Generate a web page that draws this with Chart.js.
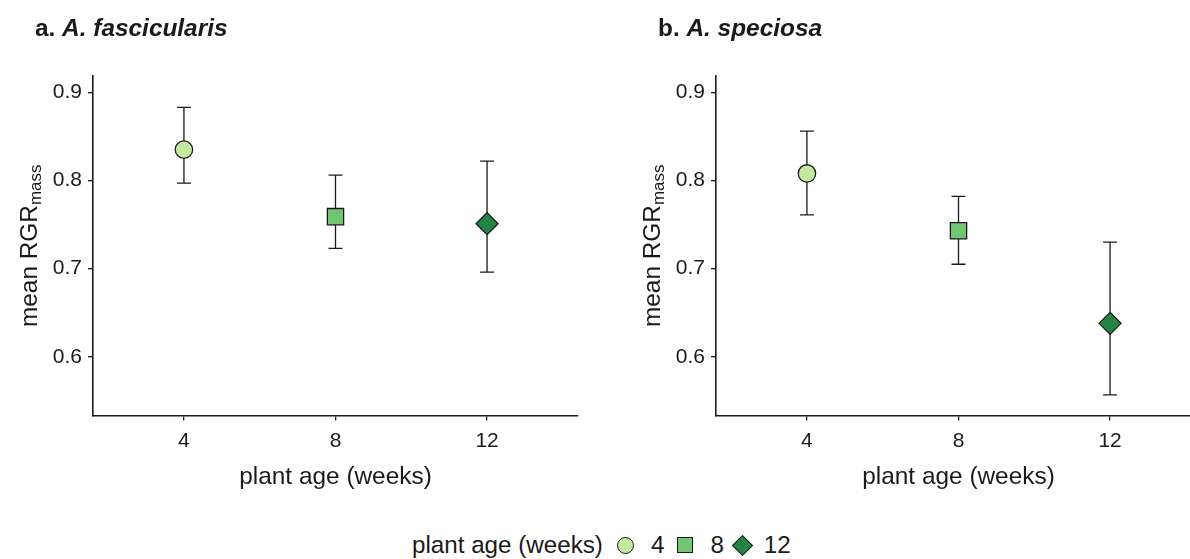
<!DOCTYPE html>
<html>
<head>
<meta charset="utf-8">
<script src="https://cdn.jsdelivr.net/npm/chart.js@4.4.1/dist/chart.umd.min.js"></script>
<style>
  body { margin: 0; background: #fff; }
  #page {
    position: relative; width: 1190px; height: 559px; overflow: hidden;
    font-family: 'Liberation Sans', Arial, sans-serif; color: #1a1a1a;
  }
  .panel { position: absolute; top: 0; width: 595px; height: 500px; }
  #legend {
    position: absolute; left: 412px; top: 530px; height: 30px;
    display: flex; align-items: center; font-size: 24.2px; white-space: nowrap;
  }
  .key { border: 1.3px solid #1a1a1a; box-sizing: border-box; display: inline-block; }
</style>
</head>
<body>
<div id="page">
  <div class="panel" style="left:0"><canvas id="panelA" width="595" height="500"></canvas></div>
  <div class="panel" style="left:623px"><canvas id="panelB" width="595" height="500"></canvas></div>
  <div id="legend"></div>
</div>
<script>
// plant age groups and their point styles
const ages = ['4', '8', '12'];
const shapes = ['circle', 'rect', 'rectRot'];
const radii = [8.7, 11.5, 11];
const fills = ['#c5e8a0', '#74c476', '#238443'];
const yTicks = [0.6, 0.7, 0.8, 0.9];

// A. fascicularis: mean RGR (mass) with lower / upper error limits
const meanA = [0.835, 0.759, 0.751];
const lowA = [0.797, 0.723, 0.696];
const highA = [0.883, 0.806, 0.822];

// A. speciosa
const meanB = [0.808, 0.743, 0.638];
const lowB = [0.761, 0.705, 0.557];
const highB = [0.856, 0.782, 0.730];

const FONT = "'Liberation Sans', Arial, sans-serif";
const INK = '#1a1a1a';
const TITLE_SIZE = 24.4;
const SUB_SIZE = 17;

function makePanel(id, letter, species, mean, low, high) {
  const decorations = {
    id: 'decorations',
    beforeDatasetsDraw(chart) {
      // error bars sit behind the points
      const { ctx, scales: { x, y } } = chart;
      ctx.save();
      ctx.strokeStyle = INK;
      ctx.lineWidth = 1.3;
      mean.forEach((m, i) => {
        const px = x.getPixelForValue(i + 1);
        const top = y.getPixelForValue(high[i]);
        const bot = y.getPixelForValue(low[i]);
        ctx.beginPath();
        ctx.moveTo(px, top); ctx.lineTo(px, bot);
        ctx.moveTo(px - 7, top); ctx.lineTo(px + 7, top);
        ctx.moveTo(px - 7, bot); ctx.lineTo(px + 7, bot);
        ctx.stroke();
      });
      ctx.restore();
    },
    afterDraw(chart) {
      const { ctx, chartArea: area } = chart;
      ctx.save();
      ctx.fillStyle = INK;
      ctx.textBaseline = 'alphabetic';
      ctx.textAlign = 'left';

      // panel title: "a. " upright bold, species name bold italic
      ctx.font = 'bold ' + TITLE_SIZE + 'px ' + FONT;
      ctx.fillText(letter + ' ', 35, 36);
      const lw = ctx.measureText(letter + ' ').width;
      ctx.font = 'italic bold ' + TITLE_SIZE + 'px ' + FONT;
      ctx.fillText(species, 35 + lw, 36);

      // x axis title
      ctx.font = TITLE_SIZE + 'px ' + FONT;
      ctx.textAlign = 'center';
      ctx.fillText('plant age (weeks)', (area.left + area.right) / 2, 484);

      // y axis title with subscript
      ctx.textAlign = 'left';
      ctx.translate(37, (area.top + area.bottom) / 2);
      ctx.rotate(-Math.PI / 2);
      ctx.font = TITLE_SIZE + 'px ' + FONT;
      const w1 = ctx.measureText('mean RGR').width;
      ctx.font = SUB_SIZE + 'px ' + FONT;
      const w2 = ctx.measureText('mass').width;
      const start = -(w1 + w2) / 2;
      ctx.font = TITLE_SIZE + 'px ' + FONT;
      ctx.fillText('mean RGR', start, 0);
      ctx.font = SUB_SIZE + 'px ' + FONT;
      ctx.fillText('mass', start + w1, 4);
      ctx.restore();
    }
  };

  return new Chart(document.getElementById(id), {
    type: 'scatter',
    data: {
      datasets: [{
        data: mean.map((m, i) => ({ x: i + 1, y: m })),
        pointStyle: shapes,
        pointRadius: radii,
        pointHoverRadius: radii,
        backgroundColor: fills,
        borderColor: INK,
        borderWidth: 1.3
      }]
    },
    options: {
      responsive: false,
      animation: false,
      events: [],
      layout: { padding: { top: 76, right: 17, left: 0, bottom: 0 } },
      plugins: { legend: { display: false }, tooltip: { enabled: false } },
      scales: {
        x: {
          type: 'linear',
          min: 0.4,
          max: 3.6,
          afterBuildTicks: s => { s.ticks = ages.map((a, i) => ({ value: i + 1 })); },
          afterFit: s => { s.height = 84.5; },
          ticks: {
            callback: v => ages[v - 1],
            color: INK,
            padding: 8,
            maxRotation: 0,
            font: { family: FONT, size: 21 }
          },
          grid: { drawOnChartArea: false, drawTicks: true, tickLength: 5, color: INK, lineWidth: 1.3 },
          border: { color: INK, width: 1.6 }
        },
        y: {
          min: 0.5335,
          max: 0.9185,
          afterBuildTicks: s => { s.ticks = yTicks.map(v => ({ value: v })); },
          afterFit: s => { s.width = 93; },
          ticks: {
            callback: v => v.toFixed(1),
            color: INK,
            padding: 6,
            font: { family: FONT, size: 21 }
          },
          grid: { drawOnChartArea: false, drawTicks: true, tickLength: 5, color: INK, lineWidth: 1.3 },
          border: { color: INK, width: 1.6 }
        }
      }
    },
    plugins: [decorations]
  });
}

makePanel('panelA', 'a.', 'A. fascicularis', meanA, lowA, highA);
makePanel('panelB', 'b.', 'A. speciosa', meanB, lowB, highB);

// shared legend for plant age
const legend = document.getElementById('legend');
const label = document.createElement('span');
label.textContent = 'plant age (weeks)';
legend.appendChild(label);
const keyStyles = [
  'width:17px;height:17px;border-radius:50%;margin-left:14px;',
  'width:16px;height:16px;margin-left:13px;',
  'width:15px;height:15px;transform:rotate(45deg);margin-left:11px;'
];
const gaps = [17, 17, 14];
ages.forEach((a, i) => {
  const key = document.createElement('span');
  key.className = 'key';
  key.style.cssText = keyStyles[i] + 'background:' + fills[i] + ';';
  legend.appendChild(key);
  const t = document.createElement('span');
  t.textContent = a;
  t.style.marginLeft = gaps[i] + 'px';
  legend.appendChild(t);
});
</script>
</body>
</html>
